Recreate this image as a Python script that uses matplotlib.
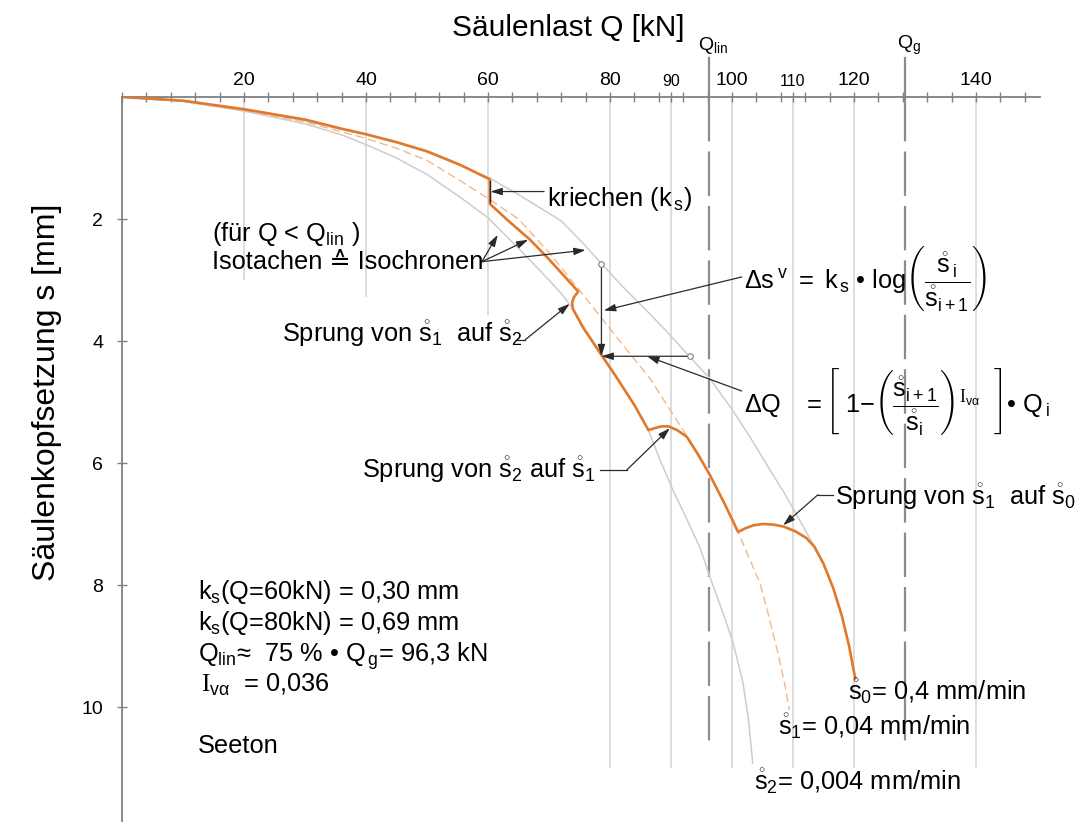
import numpy as np
import matplotlib.pyplot as plt

plt.rcParams['font.family'] = ['Liberation Sans', 'DejaVu Sans']
plt.rcParams['mathtext.fontset'] = 'custom'
plt.rcParams['mathtext.rm'] = 'Liberation Sans'
plt.rcParams['mathtext.it'] = 'Liberation Sans'
plt.rcParams['mathtext.bf'] = 'Liberation Sans:bold'
plt.rcParams['mathtext.cal'] = 'Liberation Serif'

# Isotachen: Säulenlast Q [kN] gegen Setzung s [mm]
q_s0 = [0, 10, 20, 30, 36, 40, 45, 50, 55.4, 60.3, 65, 72, 75.6, 78.6, 82, 86, 90, 93.1,
        96.4, 100, 103, 106.2, 108.5, 110.5, 112, 113.5, 115, 116.6, 118, 119.2, 120.2]
s_s0 = [0, 0.07, 0.21, 0.39, 0.53, 0.62, 0.75, 0.9, 1.12, 1.33, 1.6, 2.03, 2.4, 2.73, 3.1, 3.5, 3.92, 4.26,
        4.62, 5.12, 5.58, 6.11, 6.48, 6.83, 7.1, 7.37, 7.65, 8.05, 8.5, 9.0, 9.53]

q_s1 = [0, 10, 20, 30, 36, 40, 45, 50, 55.4, 60, 65, 70, 75.1, 80, 86.6, 92.3, 94.5, 96.4,
        98.8, 101, 103, 104.6, 106, 107.5, 108.7, 109.4]
s_s1 = [0, 0.07, 0.22, 0.41, 0.57, 0.68, 0.84, 1.04, 1.37, 1.66, 2.0, 2.55, 3.18, 3.8, 4.62, 5.51, 5.87, 6.2,
        6.67, 7.13, 7.6, 7.97, 8.5, 9.1, 9.65, 10.05]

q_s2 = [0, 10, 20, 30, 36, 40, 45, 50, 55.4, 60, 65, 70, 72, 73.8, 75.6, 78, 81.1, 84, 86.3,
        88, 90.3, 92.5, 94.8, 96.5, 98.5, 100.2, 101.8, 102.7, 103.4]
s_s2 = [0, 0.07, 0.23, 0.44, 0.62, 0.78, 1.0, 1.27, 1.64, 1.98, 2.48, 3.0, 3.22, 3.45, 3.76, 4.13, 4.6, 5.05, 5.46,
        5.9, 6.44, 6.9, 7.4, 7.9, 8.45, 8.95, 9.6, 10.2, 10.92]

# Versuchskurve mit Kriechen und Geschwindigkeitssprüngen
q_test = [0, 10, 20, 30, 36, 40, 45, 50, 55.4, 60.3, 60.3, 63, 66.9, 70, 74.8, 74.1, 73.8,
          73.9, 74.5, 75.6, 78, 81.1, 84, 86.3, 87.3, 88.4, 89.6, 91, 92.6, 94.5, 96.4, 98.8,
          101, 102.2, 103.6, 105.1, 106.8, 108.4, 110.4, 112.2, 113.5, 115, 116.6, 118, 119.2, 120.2]
s_test = [0, 0.06, 0.2, 0.37, 0.52, 0.61, 0.74, 0.89, 1.11, 1.35, 1.75, 2.0, 2.34, 2.66, 3.19, 3.28, 3.37,
          3.47, 3.58, 3.78, 4.14, 4.6, 5.05, 5.46, 5.43, 5.4, 5.4, 5.46, 5.57, 5.87, 6.2, 6.67,
          7.13, 7.07, 7.02, 7.0, 7.01, 7.04, 7.12, 7.23, 7.37, 7.65, 8.05, 8.5, 9.0, 9.53]

grid_q = [20, 40, 60, 80, 90, 100, 110, 120, 140]
x_ticks = [20, 40, 60, 80, 90, 100, 110, 120, 140]
x_tick_labels = ['20', '40', '60', '80', '90', '100', '110', '120', '140']
y_ticks = [2, 4, 6, 8, 10]
q_lin = 96.3
q_g = 128.4

ORANGE = '#e2792a'
GREY = '#cdcdcd'
INK = '#2a2a2a'

fig = plt.figure(figsize=(10.87, 8.22), dpi=100)
ax = fig.add_axes([122 / 1087, 0, 918 / 1087, 725 / 822])
ax.set_xlim(0, 150.5)
ax.set_ylim(725 / 61, 0)

for side in ('right', 'bottom'):
    ax.spines[side].set_visible(False)
for side in ('top', 'left'):
    ax.spines[side].set_color('#808080')
    ax.spines[side].set_linewidth(1.3)

ax.xaxis.tick_top()
ax.set_xticks(x_ticks, x_tick_labels)
ax.set_xticks(np.arange(0, 150, 4), minor=True)
ax.tick_params(axis='x', which='both', direction='inout', length=7, width=1,
               color='#808080', pad=2, labelsize=14)
for lbl in ax.get_xticklabels():
    if lbl.get_text() in ('90', '110'):
        lbl.set_fontsize(11.5)
ax.set_yticks(y_ticks)
ax.tick_params(axis='y', direction='inout', length=7, width=1,
               color='#808080', pad=10, labelsize=14)

# Rasterlinien, links nur bis unter die Kurven
grid_bottom = {20: 3.0, 40: 3.28, 60: 3.57}
for q in grid_q:
    ax.vlines(q, 0, grid_bottom.get(q, 11.0), color='#dadada', lw=1.3, zorder=0)

# Q_lin und Q_g
for q, name in ((q_lin, 'Q$_{\\mathrm{lin}}$'), (q_g, 'Q$_{\\mathrm{g}}$')):
    ax.plot([q, q], [-0.64, 0], color='#8c8c8c', lw=1.6, clip_on=False)
    ax.plot([q, q], [0, 10.65], color='#8c8c8c', lw=1.6, ls=(0, (20, 4.5)), clip_on=False)
    ax.text(q + 0.6, -0.85, name, ha='center', va='center', fontsize=14)

# Isotachen und Versuchskurve
ax.plot(q_s2, s_s2, color=GREY, lw=1.1, zorder=2)
ax.plot(q_s0, s_s0, color=GREY, lw=1.1, zorder=2)
ax.plot(q_s1, s_s1, color='#f2b88a', lw=1.0, ls=(0, (6, 3)), zorder=2)
ax.plot(q_test, s_test, color=ORANGE, lw=1.9, solid_joinstyle='round', zorder=3)
ax.plot([60.3, 60.3], [1.38, 1.72], color=INK, lw=1.0, zorder=4)

arrow_kw = dict(arrowstyle='-|>,head_length=0.7,head_width=0.22', color=INK,
                lw=0.9, shrinkA=0, shrinkB=0)


def pointer(path):
    # path runs from the label to the target, arrowhead on the last point
    xs, ys = zip(*path)
    if len(path) > 2:
        ax.plot(xs[:-1], ys[:-1], color=INK, lw=0.9)
    ax.annotate('', xy=path[-1], xytext=path[-2], arrowprops=arrow_kw)


pointer([(69.2, 1.55), (60.4, 1.55)])
for tip in [(61.6, 2.26), (66.6, 2.34), (76.0, 2.51)]:
    pointer([(59.0, 2.7), tip])
pointer([(64.6, 3.98), (66.1, 3.98), (73.4, 3.39)])
pointer([(78.4, 6.11), (82.8, 6.11), (89.8, 5.43)])
pointer([(116.6, 6.52), (114.1, 6.52), (108.4, 7.02)])

# Konstruktion von Delta s^v und Delta Q
ax.annotate('', xy=(78.6, 4.25), xytext=(78.6, 2.73), arrowprops=arrow_kw)
ax.annotate('', xy=(78.6, 4.25), xytext=(93.1, 4.25), arrowprops=arrow_kw)
ax.plot([78.6, 93.1], [2.73, 4.25], ls='none', marker='o', ms=4, mfc='white',
        mec='#808080', mew=0.8, zorder=5)
pointer([(101.6, 2.95), (79.0, 3.5)])
pointer([(101.6, 4.82), (86.1, 4.25)])

fs = 18.3
ax.text(69.6, 1.79, 'kriechen (k$_{\\,\\mathrm{s}}$)', fontsize=fs, va='baseline')
ax.text(14.75, 2.36, '(für Q < Q$_{\\mathrm{lin}}$ )', fontsize=fs, va='baseline')
ax.text(14.75, 2.82, 'Isotachen \u2259 Isochronen', fontsize=fs, va='baseline')
ax.text(26.2, 4.02, 'Sprung von $\\mathring{s}_1$  auf $\\mathring{s}_2$', fontsize=fs, va='baseline')
ax.text(39.3, 6.25, 'Sprung von $\\mathring{s}_2$ auf $\\mathring{s}_1$', fontsize=fs, va='baseline')
ax.text(116.9, 6.69, 'Sprung von $\\mathring{s}_1$  auf $\\mathring{s}_0$', fontsize=fs, va='baseline')

ax.text(102.0, 3.13,
        r'$\Delta s^{\,v}\ =\ k_{\,s}$' + ' \u2022 ' +
        r'log$\left(\dfrac{\mathring{s}_{\,i}}{\mathring{s}_{i+1}}\right)$',
        fontsize=fs, va='baseline')
ax.text(102.0, 5.17,
        r'$\Delta Q\ \ \ =\left[\ 1\mathrm{-}\left(\dfrac{\mathring{s}_{i+1}}{\mathring{s}_{i}}\right)^{\mathcal{I}_{v\alpha}}\ \ \right]$'
        + '\u2022 Q$_{\\,i}$',
        fontsize=fs, va='baseline')

ax.text(119.0, 9.89, '$\\mathring{s}_0$= 0,4 mm/min', fontsize=fs, va='baseline')
ax.text(107.5, 10.46, '$\\mathring{s}_1$= 0,04 mm/min', fontsize=fs, va='baseline')
ax.text(103.6, 11.35, '$\\mathring{s}_2$= 0,004 mm/min', fontsize=fs, va='baseline')

ax.text(12.5, 8.23, 'k$_{\\mathrm{s}}$(Q=60kN) = 0,30 mm', fontsize=fs, va='baseline')
ax.text(12.5, 8.74, 'k$_{\\mathrm{s}}$(Q=80kN) = 0,69 mm', fontsize=fs, va='baseline')
ax.text(12.5, 9.26, 'Q$_{\\mathrm{lin}}$\u2248  75 % \u2022 Q$_{\\,\\mathrm{g}}$= 96,3 kN', fontsize=fs, va='baseline')
ax.text(12.9, 9.75, '$\\mathcal{I}_{v\\alpha}$  = 0,036', fontsize=fs, va='baseline')
ax.text(12.5, 10.76, 'Seeton', fontsize=fs, va='baseline')

fig.text(568 / 1087, 1 - 28 / 822, 'Säulenlast Q [kN]', fontsize=21.5, ha='center', va='center')
fig.text(47 / 1087, 1 - 392 / 822, 'Säulenkopfsetzung s [mm]', fontsize=23,
         rotation=90, ha='center', va='center')

fig.savefig('out.png', dpi=100)
